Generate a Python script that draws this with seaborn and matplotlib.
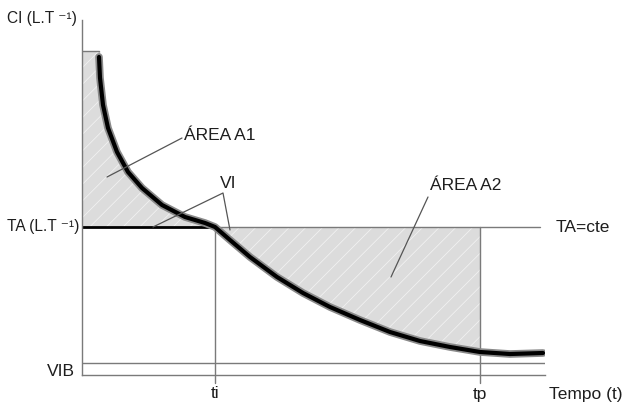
import numpy as np
import pandas as pd
import matplotlib
matplotlib.use('Agg')
import matplotlib.pyplot as plt
import seaborn as sns

# Infiltration curve (arbitrary units)
tempo = [17, 17, 18, 21, 26, 35, 46, 60, 80, 103, 123, 133, 148, 168, 195, 221,
         248, 278, 308, 338, 368, 398, 428, 461]
ci = [324, 312, 297, 270, 247, 223, 203, 187, 170, 158, 152, 148, 135, 118, 98, 82,
      68, 55, 43, 34, 28, 23, 21, 22]

# reference levels and times
TA = 148
VIB = 12
CI_TOP = 324
ti = 133
tp = 398
t_end = 463
y_top = 355

sns.set_theme(style='white')
plt.rcParams['font.family'] = ['Liberation Sans', 'DejaVu Sans']
plt.rcParams['hatch.linewidth'] = 0.5

df = pd.DataFrame({'tempo': tempo, 'ci': ci})
t = np.array(tempo, dtype=float)
c = np.array(ci, dtype=float)

fig = plt.figure(figsize=(6.25, 4.05), dpi=100)
ax = fig.add_axes([82 / 625, 30 / 405, 463 / 625, 355 / 405])
ax.set_xlim(0, t_end)
ax.set_ylim(0, y_top)

grey = '#7a7a7a'
txt = '#1e1e1e'
fill = '#dcdcdc'

# area A1 (above TA, left of ti)
m1 = t <= ti
t1 = np.concatenate([[0], t[m1]])
c1 = np.concatenate([[CI_TOP], c[m1]])
ax.fill_between(t1, TA, c1, facecolor=fill, edgecolor='#f4f4f4', hatch='//', linewidth=0)
ax.plot([0, 17], [CI_TOP, CI_TOP], color=grey, lw=1)

# area A2 (below TA, between ti and tp)
m2 = (t >= ti) & (t <= tp)
ax.fill_between(t[m2], c[m2], TA, facecolor=fill, edgecolor='#f4f4f4', hatch='//', linewidth=0)

# reference lines
ax.plot([0, ti], [TA, TA], color='black', lw=2)
ax.plot([ti, t_end - 5], [TA, TA], color=grey, lw=1)
ax.plot([0, t_end], [VIB, VIB], color=grey, lw=1)
ax.plot([ti, ti], [TA, -8], color=grey, lw=1, clip_on=False)
ax.plot([tp, tp], [TA, -8], color=grey, lw=1, clip_on=False)

# infiltration curve with a grey shadow
sns.lineplot(data=df, x='tempo', y='ci', ax=ax, color='#8a8a8a', lw=5.5, sort=False)
sns.lineplot(data=df, x='tempo', y='ci', ax=ax, color='black', lw=3, sort=False)

# leader lines
ax.plot([100, 25], [237, 198], color='#555555', lw=0.9)
ax.plot([71, 141, 148], [148, 182, 145], color='#555555', lw=0.9)
ax.plot([346, 309], [178, 98], color='#555555', lw=0.9)

for s in ['top', 'right']:
    ax.spines[s].set_visible(False)
for s in ['left', 'bottom']:
    ax.spines[s].set_color(grey)
    ax.spines[s].set_linewidth(1)
ax.set_xticks([])
ax.set_yticks([])
ax.set_xlabel('')
ax.set_ylabel('')

fs = 12.5
ax.text(-75, 357, 'CI (L.T ⁻¹)', fontsize=11.2, color=txt, ha='left', va='center', clip_on=False)
ax.text(-75, TA, 'TA (L.T ⁻¹)', fontsize=11.2, color=txt, ha='left', va='center', clip_on=False)
ax.text(-7, 4, 'VIB', fontsize=fs, color=txt, ha='right', va='center', clip_on=False)
ax.text(ti, -19, 'ti', fontsize=fs, color=txt, ha='center', va='center', clip_on=False)
ax.text(tp, -19, 'tp', fontsize=fs, color=txt, ha='center', va='center', clip_on=False)
ax.text(467, -19, 'Tempo (t)', fontsize=fs, color=txt, ha='left', va='center', clip_on=False)
ax.text(474, TA, 'TA=cte', fontsize=fs, color=txt, ha='left', va='center', clip_on=False)
ax.text(138, 240, 'ÁREA A1', fontsize=fs, color=txt, ha='center', va='center')
ax.text(146, 191, 'VI', fontsize=fs, color=txt, ha='center', va='center')
ax.text(384, 190, 'ÁREA A2', fontsize=fs, color=txt, ha='center', va='center')

fig.savefig('out.png', dpi=100, facecolor='white')
